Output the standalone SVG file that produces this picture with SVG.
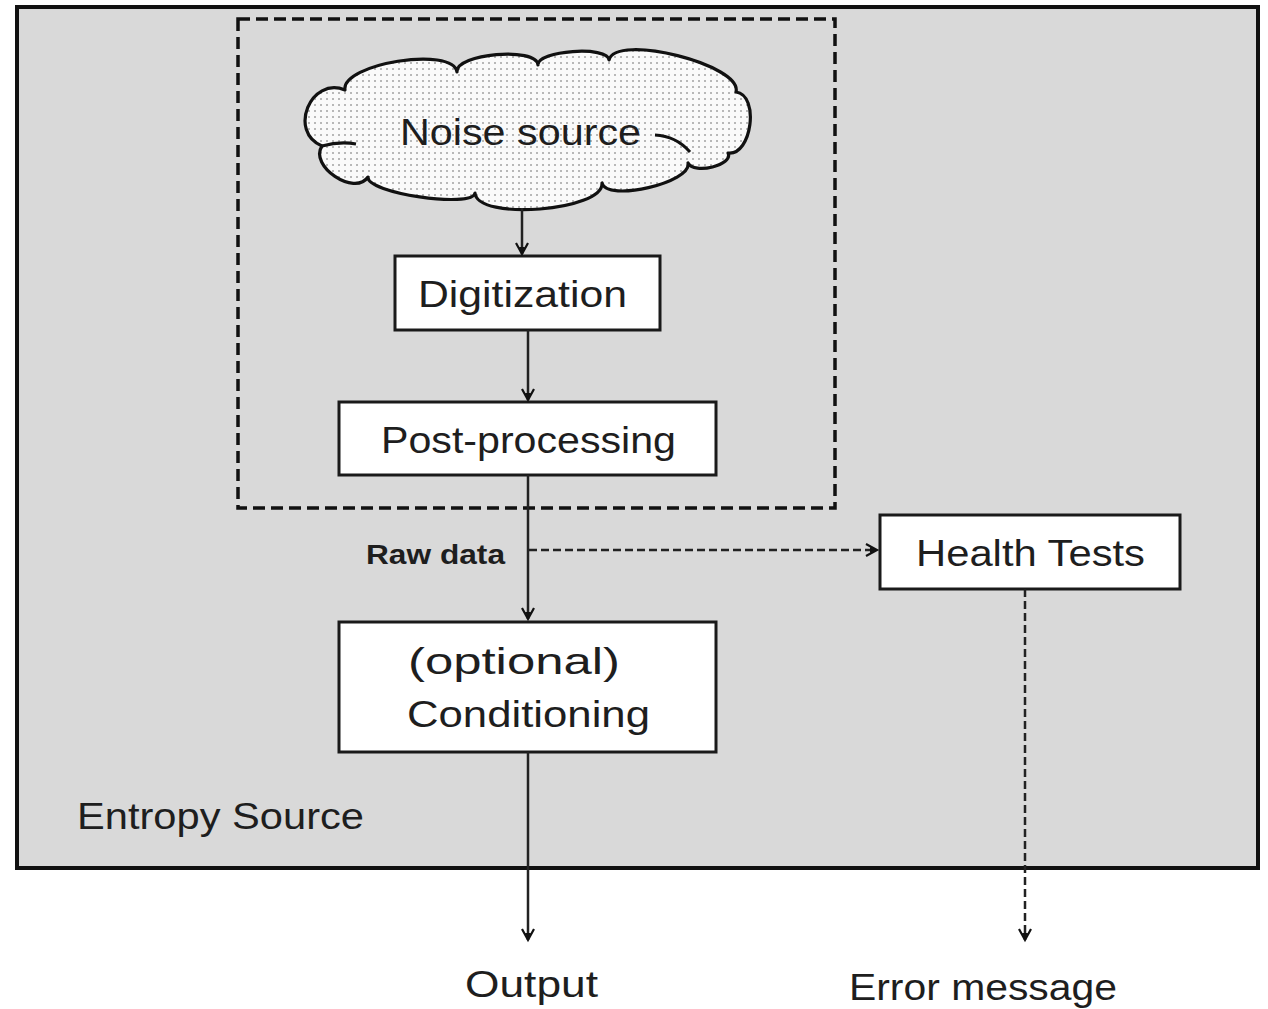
<svg xmlns="http://www.w3.org/2000/svg" width="1268" height="1009" viewBox="0 0 1268 1009">
<style>
.t{font-family:"Liberation Sans",Arial,sans-serif;font-size:37px;fill:#1e1e1e;text-anchor:start}
.b{font-weight:bold;font-size:27px}
.box{fill:#fff;stroke:#1a1a1a;stroke-width:3}
.ln{stroke:#222;stroke-width:2.5;fill:none}
.dl{stroke:#222;stroke-width:2.5;fill:none;stroke-dasharray:8 4}
</style>
<defs>
<pattern id="dots" width="6" height="6" patternUnits="userSpaceOnUse">
<rect width="6" height="6" fill="#fafafa"/>
<rect x="2" y="2" width="2" height="2" fill="#b8b8b8"/>
</pattern>
<marker id="ah" markerUnits="userSpaceOnUse" markerWidth="16" markerHeight="16" refX="13" refY="8" orient="auto">
<path d="M2,2 L13,8 L2,14" fill="none" stroke="#111" stroke-width="2.2"/>
<path d="M6,5 L13,8 L6,11 Z" fill="#111"/>
</marker>
</defs>
<rect width="1268" height="1009" fill="#fff"/>
<g id="entropy-source">
<rect x="17" y="7" width="1241" height="861" fill="#d9d9d9" stroke="#111" stroke-width="4"/>
<text class="t" x="77" y="829" textLength="287" lengthAdjust="spacingAndGlyphs">Entropy Source</text>
</g>
<g id="noise-boundary">
<rect x="238" y="19" width="597" height="489" fill="none" stroke="#111" stroke-width="3.5" stroke-dasharray="12 6"/>
</g>
<g id="noise-source">
<path d="M322,146 C287.7,131.9 310.7,75.9 345,90 C340.8,63.7 452.8,45.7 457,72 C455.4,53.5 536.4,46.5 538,65 C537,50.4 608,45.4 609,60 C615.8,32.9 742.8,64.9 736,92 C759.8,95.1 751.8,156.1 728,153 C734,164.9 694,175 688,163 C692.5,182.5 606.5,202.5 602,183 C604,211 477,221 475,193 C472.6,208.8 365.6,192.8 368,177 C354.6,196.9 308.6,165.9 322,146 Z" fill="url(#dots)" stroke="#111" stroke-width="3.2" stroke-linejoin="round"/>
<path d="M655,135 Q676,136 690,152" fill="none" stroke="#111" stroke-width="3"/>
<path d="M322,146 Q340,141 356,144" fill="none" stroke="#111" stroke-width="3"/>
<text class="t" x="400" y="145" textLength="241" lengthAdjust="spacingAndGlyphs">Noise source</text>
</g>
<g id="digitization">
<rect class="box" x="395" y="256" width="265" height="74"/>
<text class="t" x="418" y="307" textLength="209" lengthAdjust="spacingAndGlyphs">Digitization</text>
</g>
<g id="post-processing">
<rect class="box" x="339" y="402" width="377" height="73"/>
<text class="t" x="381" y="453" textLength="295" lengthAdjust="spacingAndGlyphs">Post-processing</text>
</g>
<g id="health-tests">
<rect class="box" x="880" y="515" width="300" height="74"/>
<text class="t" x="916" y="566" textLength="229" lengthAdjust="spacingAndGlyphs">Health Tests</text>
</g>
<g id="conditioning">
<rect class="box" x="339" y="622" width="377" height="130"/>
<text class="t" x="408" y="674" textLength="212" lengthAdjust="spacingAndGlyphs">(optional)</text>
<text class="t" x="407" y="727" textLength="243" lengthAdjust="spacingAndGlyphs">Conditioning</text>
</g>
<g id="outputs">
<text class="t" x="465" y="997" textLength="133" lengthAdjust="spacingAndGlyphs">Output</text>
<text class="t" x="849" y="1000" textLength="268" lengthAdjust="spacingAndGlyphs">Error message</text>
</g>
<g id="connectors">
<line class="ln" x1="522" y1="208" x2="522" y2="254" marker-end="url(#ah)"/>
<line class="ln" x1="528" y1="330" x2="528" y2="400" marker-end="url(#ah)"/>
<line class="ln" x1="528" y1="475" x2="528" y2="619" marker-end="url(#ah)"/>
<line class="dl" x1="529" y1="550" x2="877" y2="550" marker-end="url(#ah)"/>
<line class="ln" x1="528" y1="752" x2="528" y2="940" marker-end="url(#ah)"/>
<line class="dl" x1="1025" y1="589" x2="1025" y2="940" marker-end="url(#ah)"/>
<text class="t b" x="366" y="564" textLength="139" lengthAdjust="spacingAndGlyphs">Raw data</text>
</g>
</svg>
